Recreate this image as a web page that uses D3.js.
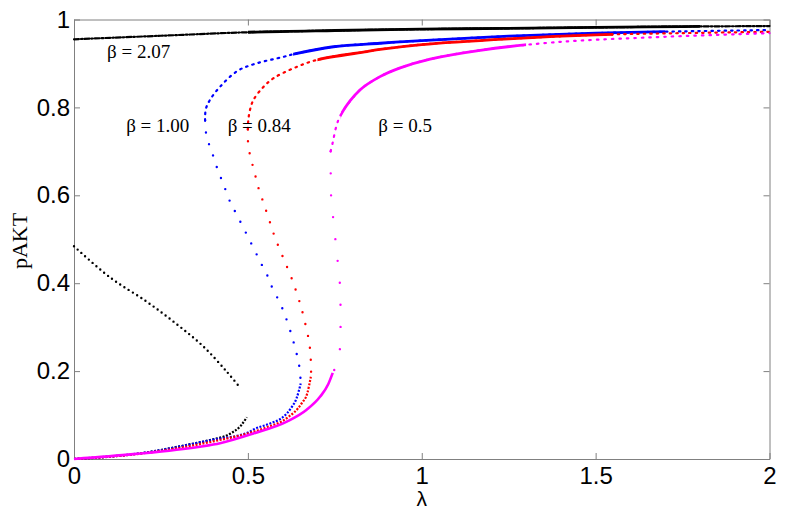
<!DOCTYPE html>
<html lang="en">
<head>
<meta charset="utf-8">
<title>pAKT bifurcation</title>
<script src="https://d3js.org/d3.v7.min.js"></script>
<style>
  body { margin: 0; background: #fff; }
  .axis text { font-family: "Liberation Sans", Arial, sans-serif; font-size: 24px; fill: #000; }
  .axis path, .axis line { stroke: #808080; }
</style>
</head>
<body>
<div id="chart"></div>
<script>

var w = 787, h = 520;
var margin = {left: 74, right: 17.5, top: 19.5, bottom: 61};

// tick values
var lambdaTicks = [0, 0.5, 1, 1.5, 2];
var pAktTicks = [0, 0.2, 0.4, 0.6, 0.8, 1];

// beta = 2.07
var upper207 = [[0,0.955],[0.25,0.963],[0.5,0.971],[0.75,0.975],[1,0.978],[1.25,0.980],[1.5,0.982],[1.75,0.984],[2,0.985]];
var middle207 = [[0,0.484],[0.104,0.413],[0.209,0.358],[0.295,0.307],[0.372,0.256],[0.439,0.199],[0.477,0.163]];
var lower207 = [[0,0],[0.1,0.005],[0.2,0.014],[0.324,0.032],[0.39,0.043],[0.45,0.058],[0.48,0.076],[0.497,0.095]];

// beta = 1.00
var upper100 = [[0.377,0.77],[0.379,0.796],[0.391,0.817],[0.42,0.847],[0.47,0.883],[0.52,0.899],[0.602,0.915],[0.631,0.921],[0.746,0.938],[0.88,0.946],[1,0.952],[1.25,0.962],[1.5,0.969],[1.75,0.973],[2,0.976]];
var middle100 = [[0.377,0.77],[0.379,0.745],[0.388,0.717],[0.401,0.688],[0.415,0.654],[0.428,0.629],[0.449,0.585],[0.47,0.553],[0.52,0.474],[0.538,0.445],[0.554,0.421],[0.566,0.397],[0.6,0.341],[0.63,0.27],[0.648,0.21],[0.652,0.172]];
var lower100 = [[0,0],[0.2,0.014],[0.4,0.044],[0.5,0.06],[0.516,0.067],[0.564,0.081],[0.602,0.096],[0.626,0.118],[0.64,0.138],[0.652,0.172]];

// beta = 0.84
var upper084 = [[0.5,0.75],[0.501,0.769],[0.506,0.794],[0.516,0.817],[0.544,0.846],[0.573,0.866],[0.631,0.889],[0.698,0.908],[0.842,0.927],[0.88,0.932],[1,0.943],[1.25,0.956],[1.5,0.965],[1.75,0.969],[2,0.972]];
var middle084 = [[0.5,0.75],[0.5,0.726],[0.506,0.692],[0.518,0.656],[0.53,0.618],[0.544,0.585],[0.562,0.542],[0.578,0.504],[0.602,0.457],[0.626,0.411],[0.65,0.354],[0.658,0.331],[0.677,0.263],[0.679,0.244],[0.682,0.21],[0.681,0.187]];
var lower084 = [[0,0],[0.2,0.013],[0.4,0.04],[0.516,0.062],[0.554,0.072],[0.612,0.093],[0.655,0.127],[0.671,0.15],[0.681,0.187]];

// beta = 0.5
var upper050 = [[0.738,0.70],[0.744,0.72],[0.754,0.756],[0.767,0.783],[0.823,0.84],[0.88,0.87],[0.938,0.89],[1.024,0.91],[1.168,0.93],[1.379,0.948],[1.647,0.959],[2,0.969]];
var middle050 = [[0.738,0.70],[0.739,0.68],[0.738,0.618],[0.744,0.559],[0.754,0.482],[0.757,0.459],[0.765,0.392],[0.765,0.254],[0.762,0.237],[0.755,0.214],[0.744,0.196]];
var lower050 = [[0,0],[0.171,0.011],[0.362,0.028],[0.42,0.036],[0.516,0.058],[0.612,0.085],[0.669,0.112],[0.708,0.142],[0.731,0.17],[0.744,0.196]];

var betaLabels = ["β = 2.07", "β = 1.00", "β = 0.84", "β = 0.5"];

// drawing config (styles only)
var series = [
  {upper: upper207, middle: middle207, lower: lower207, color: "#000000", headDash: "5,2,1.5,2", solid: [0.5, 1.8], lowerDash: "2,1.5", middleDash: "0,5"},
  {upper: upper100, middle: middle100, lower: lower100, color: "#0000ff", headDash: "1.5,5", solid: [0.63, 1.7], lowerDash: "2,1.5", middleDash: "0,12"},
  {upper: upper084, middle: middle084, lower: lower084, color: "#ff0000", headDash: "1.5,5", solid: [0.7, 1.55], lowerDash: "2,1.5", middleDash: "0,12"},
  {upper: upper050, middle: middle050, lower: lower050, color: "#ff00ff", headDash: "1.5,6", solid: [0.767, 1.3], lowerDash: null, middleDash: "0,22"}
];
var labelPos = [[0.095, 0.912], [0.15, 0.745], [0.442, 0.745], [0.875, 0.745]];

var xScale = d3.scaleLinear().domain([0, 2]).range([margin.left, w - margin.right]);
var yScale = d3.scaleLinear().domain([0, 1]).range([h - margin.bottom, margin.top]);

var svg = d3.select("#chart").append("svg")
  .attr("width", w)
  .attr("height", h);

var line = d3.line()
  .x(function(d){ return xScale(d[0]); })
  .y(function(d){ return yScale(d[1]); })
  .curve(d3.curveCatmullRom.alpha(0.5));

// lower branches are monotone in lambda
var lineLower = d3.line()
  .x(function(d){ return xScale(d[0]); })
  .y(function(d){ return yScale(d[1]); })
  .curve(d3.curveMonotoneX);

// axes, box with inward ticks on all sides
svg.append("g").attr("class", "axis")
  .attr("transform", "translate(0," + yScale(0) + ")")
  .call(d3.axisBottom(xScale).tickValues(lambdaTicks).tickFormat(d3.format("")).tickSizeInner(-6).tickSizeOuter(0).tickPadding(6))
  .selectAll("text").attr("dy", "0.71em").attr("y", 8);
svg.append("g").attr("class", "axis")
  .attr("transform", "translate(0," + yScale(1) + ")")
  .call(d3.axisTop(xScale).tickValues(lambdaTicks).tickFormat("").tickSizeInner(-6).tickSizeOuter(0));
svg.append("g").attr("class", "axis")
  .attr("transform", "translate(" + xScale(0) + ",0)")
  .call(d3.axisLeft(yScale).tickValues(pAktTicks).tickFormat(d3.format("")).tickSizeInner(-6).tickSizeOuter(0).tickPadding(4))
  .selectAll("text").attr("x", -4);
svg.append("g").attr("class", "axis")
  .attr("transform", "translate(" + xScale(2) + ",0)")
  .call(d3.axisRight(yScale).tickValues(pAktTicks).tickFormat("").tickSizeInner(-6).tickSizeOuter(0));

svg.selectAll(".axis text").style("fill", "#000");

// axis titles
svg.append("text")
  .attr("x", xScale(1))
  .attr("y", 506)
  .attr("text-anchor", "middle")
  .style("font-family", "Liberation Sans, Arial, sans-serif")
  .style("font-size", "21px")
  .text("λ");

svg.append("text")
  .attr("transform", "translate(27," + 241 + ") rotate(-90)")
  .attr("text-anchor", "middle")
  .style("font-family", "Liberation Serif, Times New Roman, serif")
  .style("font-size", "22px")
  .text("pAKT");

var plot = svg.append("g");

series.forEach(function(s, i){
  var clipId = "solid" + i;
  svg.append("clipPath").attr("id", clipId)
    .append("rect")
    .attr("x", xScale(s.solid[0]))
    .attr("y", 0)
    .attr("width", xScale(s.solid[1]) - xScale(s.solid[0]))
    .attr("height", h);

  // lower (stable) branch
  plot.append("path")
    .attr("d", lineLower(s.lower))
    .attr("fill", "none")
    .attr("stroke", s.color)
    .attr("stroke-width", s.lowerDash ? 2.2 : 2.6)
    .attr("stroke-dasharray", s.lowerDash);

  // middle (unstable) branch
  plot.append("path")
    .attr("d", line(s.middle))
    .attr("fill", "none")
    .attr("stroke", s.color)
    .attr("stroke-width", 2.4)
    .attr("stroke-linecap", "round")
    .attr("stroke-dasharray", s.middleDash);

  // upper branch, dotted everywhere then solid overlay
  plot.append("path")
    .attr("d", line(s.upper))
    .attr("fill", "none")
    .attr("stroke", s.color)
    .attr("stroke-width", 2.2)
    .attr("stroke-linecap", "round")
    .attr("stroke-dasharray", s.headDash);
  plot.append("path")
    .attr("d", line(s.upper))
    .attr("fill", "none")
    .attr("stroke", s.color)
    .attr("stroke-width", 2.8)
    .attr("clip-path", "url(#" + clipId + ")");
});

// beta annotations
svg.selectAll(".beta")
  .data(betaLabels)
  .enter().append("text")
  .attr("class", "beta")
  .attr("x", function(d, i){ return xScale(labelPos[i][0]); })
  .attr("y", function(d, i){ return yScale(labelPos[i][1]); })
  .style("font-family", "Liberation Serif, Times New Roman, serif")
  .style("font-size", "19px")
  .text(function(d){ return d; });

</script>
</body>
</html>
